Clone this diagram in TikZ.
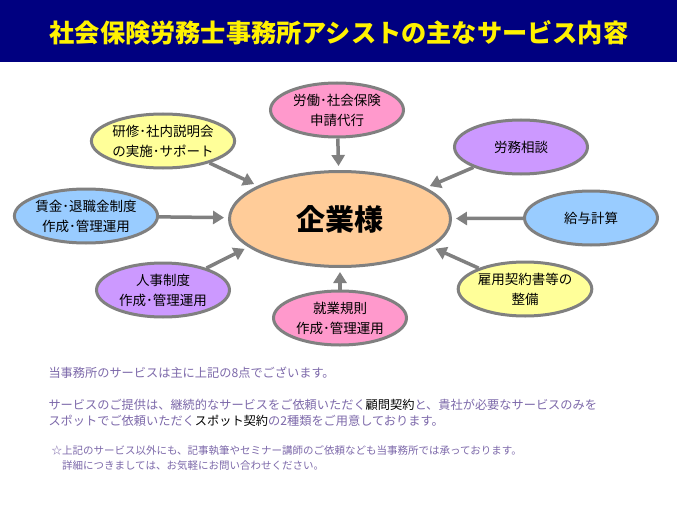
\documentclass[tikz,border=0pt]{standalone}
\usepackage{fontspec}
\setmainfont{Noto Sans CJK JP}
\usepackage{xcolor}
\usetikzlibrary{shapes.geometric,arrows.meta}

\definecolor{titlebar}{RGB}{0,0,128}
\definecolor{linegray}{RGB}{128,128,128}
\definecolor{peach}{RGB}{255,204,153}
\definecolor{pinkfill}{RGB}{255,153,204}
\definecolor{yellowfill}{RGB}{255,255,153}
\definecolor{bluefill}{RGB}{153,204,255}
\definecolor{purplefill}{RGB}{204,153,255}
\definecolor{notecol}{RGB}{125,105,170}

\begin{document}
\begin{tikzpicture}[x=1pt, y=-1pt, >=Triangle,
    svc/.style={ellipse, draw=linegray, line width=3pt, minimum width=133pt,
        minimum height=54pt, inner sep=0pt, align=center,
        font=\fontsize{13.5}{20}\selectfont},
    feed/.style={draw=linegray, line width=3.5pt,
        -{Triangle[length=11pt,width=13pt]}, shorten >=4pt},
    note/.style={anchor=west, align=left, text=notecol}]

    % The page is 677 x 508, y runs downwards
    \def\W{677}
    \def\H{508}
    \useasboundingbox (0,0) rectangle (\W,\H);
    \fill[white] (0,0) rectangle (\W,\H);

    % Title bar
    \fill[titlebar] (0,0) rectangle (\W,62);
    \node[text=yellow, font=\fontsize{25.2}{30}\selectfont\bfseries] (title) at (339,33)
        {社会保険労務士事務所アシストの主なサービス内容};

    % The client in the middle
    \node[ellipse, draw=linegray, line width=3pt, fill=peach, minimum width=221pt,
        minimum height=95pt, font=\fontsize{29}{32}\selectfont\bfseries] (kigyo) at (340,219) {企業様};

    % The eight services round it
    \node[svc, fill=pinkfill]   (shinsei) at (337,110) {労働･社会保険\\申請代行};
    \node[svc, fill=yellowfill] (kenshu)  at (163,141) {研修･社内説明会\\の実施･サポート};
    \node[svc, fill=bluefill]   (chingin) at (86,216)  {賃金･退職金制度\\作成･管理運用};
    \node[svc, fill=purplefill] (jinji)   at (163,290) {人事制度\\作成･管理運用};
    \node[svc, fill=pinkfill]   (shugyo)  at (340,318) {就業規則\\作成･管理運用};
    \node[svc, fill=yellowfill] (koyo)    at (525,289) {雇用契約書等の\\整備};
    \node[svc, fill=bluefill]   (kyuyo)   at (591,218) {給与計算};
    \node[svc, fill=purplefill] (romu)    at (521,147) {労務相談};

    % Arrows into the client
    \draw[feed] (shinsei) -- (kigyo);
    \draw[feed] (kenshu) -- (kigyo.158);
    \draw[feed] (chingin) -- (kigyo);
    \draw[feed] (jinji) -- (kigyo.197);
    \draw[feed] (shugyo) -- (kigyo);
    \draw[feed] (koyo) -- (kigyo.343);
    \draw[feed] (kyuyo) -- (kigyo);
    \draw[feed] (romu) -- (kigyo.20);

    % Notes below
    \node[note, font=\fontsize{12.2}{16}\selectfont] (note1) at (45,373)
        {当事務所のサービスは主に上記の8点でございます。};
    \node[note, font=\fontsize{12.2}{16}\selectfont] (note2) at (45,413)
        {サービスのご提供は、継続的なサービスをご依頼いただく\textcolor{black}{顧問契約}と、貴社が必要なサービスのみを\\
         スポットでご依頼いただく\textcolor{black}{スポット契約}の2種類をご用意しております。};
    \node[note, font=\fontsize{10.5}{15}\selectfont] (note3) at (48,458)
        {☆上記のサービス以外にも、記事執筆やセミナー講師のご依頼なども当事務所では承っております。\\
         \hspace*{1em}詳細につきましては、お気軽にお問い合わせください。};

\end{tikzpicture}
\end{document}
